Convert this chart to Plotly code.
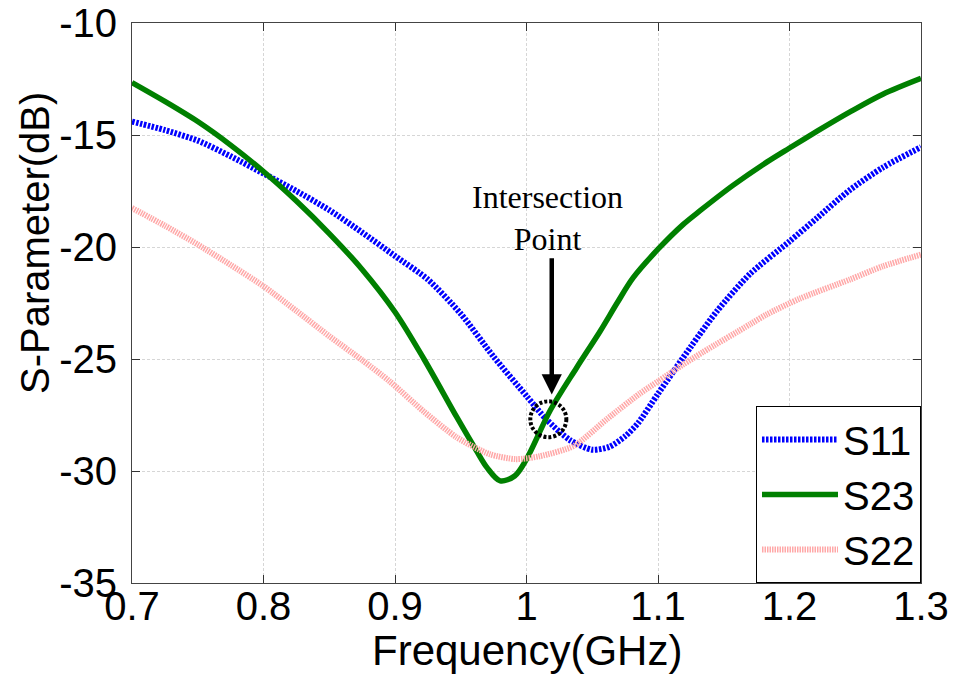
import plotly.graph_objects as go

# Measured S-parameters versus frequency
s11_freq = [0.700, 0.725, 0.750, 0.775, 0.800, 0.825, 0.850, 0.875, 0.900, 0.925,
            0.950, 0.975, 1.000, 1.015, 1.033, 1.050, 1.063, 1.075, 1.085, 1.100,
            1.125, 1.145, 1.170, 1.200, 1.221, 1.246, 1.271, 1.300]
s11_db = [-14.40, -14.78, -15.25, -15.95, -16.72, -17.50, -18.35, -19.35, -20.40, -21.45,
          -22.98, -24.90, -26.65, -27.69, -28.62, -29.05, -28.92, -28.45, -27.85, -26.55,
          -24.45, -22.85, -21.20, -19.75, -18.70, -17.45, -16.45, -15.54]

s23_freq = [0.700, 0.725, 0.750, 0.775, 0.800, 0.825, 0.850, 0.875, 0.900, 0.922,
            0.947, 0.962, 0.970, 0.980, 0.991, 1.000, 1.018, 1.038, 1.056, 1.069,
            1.081, 1.100, 1.119, 1.132, 1.157, 1.183, 1.200, 1.221, 1.246, 1.271, 1.300]
s23_db = [-12.66, -13.50, -14.40, -15.45, -16.63, -17.95, -19.40, -21.00, -22.90, -25.00,
          -27.60, -29.10, -29.85, -30.44, -30.22, -29.47, -27.30, -25.40, -23.76, -22.49,
          -21.38, -20.10, -19.00, -18.38, -17.25, -16.20, -15.58, -14.83, -13.97, -13.18, -12.47]

s22_freq = [0.700, 0.725, 0.750, 0.775, 0.800, 0.825, 0.850, 0.875, 0.896, 0.922,
            0.947, 0.972, 0.992, 1.010, 1.036, 1.061, 1.086, 1.100, 1.119, 1.134,
            1.170, 1.183, 1.208, 1.246, 1.271, 1.300]
s22_db = [-18.26, -19.05, -19.89, -20.80, -21.75, -22.85, -23.98, -25.05, -26.00, -27.35,
          -28.50, -29.25, -29.47, -29.34, -28.88, -27.69, -26.55, -26.00, -25.25, -24.70,
          -23.45, -23.00, -22.30, -21.45, -20.86, -20.34]

x_ticks = [0.7, 0.8, 0.9, 1.0, 1.1, 1.2, 1.3]
x_tick_text = ["0.7", "0.8", "0.9", "1", "1.1", "1.2", "1.3"]
y_ticks = [-35, -30, -25, -20, -15, -10]
y_tick_text = ["-35", "-30", "-25", "-20", "-15", "-10"]

# Crossing of S11 and S23, marked with a dashed circle
cross_f, cross_db = 1.0166, -27.69
circle_rf, circle_rdb = 0.0137, 0.80
arrow_tip_db, arrow_tail_db, arrow_f = -26.58, -20.43, 1.0192

SANS = "Liberation Sans, Arial, sans-serif"
SERIF = "Liberation Serif, Times New Roman, serif"

fig = go.Figure()
fig.add_trace(go.Scatter(x=s11_freq, y=s11_db, name="S11", mode="lines",
                         line=dict(color="#0000ff", width=6, dash="2.5px,1.5px",
                                   shape="spline", smoothing=0.7)))
fig.add_trace(go.Scatter(x=s23_freq, y=s23_db, name="S23", mode="lines",
                         line=dict(color="#008000", width=5.5,
                                   shape="spline", smoothing=0.9)))
fig.add_trace(go.Scatter(x=s22_freq, y=s22_db, name="S22", mode="lines",
                         line=dict(color="#ffa8a8", width=6, dash="1.5px,1px",
                                   shape="spline", smoothing=0.7)))

fig.add_shape(type="circle", xref="x", yref="y",
              x0=cross_f - circle_rf, x1=cross_f + circle_rf,
              y0=cross_db - circle_rdb, y1=cross_db + circle_rdb,
              line=dict(color="black", width=4, dash="3px,2px"))

fig.add_annotation(x=arrow_f, y=arrow_tip_db, ax=arrow_f, ay=arrow_tail_db,
                   xref="x", yref="y", axref="x", ayref="y", text="",
                   showarrow=True, arrowhead=2, arrowsize=0.9, arrowwidth=4.5,
                   arrowcolor="black", standoff=0)
fig.add_annotation(x=1.0163, y=-18.72, xref="x", yref="y",
                   text="Intersection<br>Point", showarrow=False,
                   font=dict(family=SERIF, size=32, color="black"))

# Axis titles
fig.add_annotation(x=0.5, y=-0.12, xref="paper", yref="paper",
                   text="Frequency(GHz)", showarrow=False, yanchor="middle",
                   font=dict(family=SANS, size=42, color="black"))
fig.add_annotation(x=-0.123, y=0.607, xref="paper", yref="paper",
                   text="S-Parameter(dB)", showarrow=False, textangle=-90,
                   xanchor="center", yanchor="middle",
                   font=dict(family=SANS, size=40, color="black"))

axis_common = dict(showline=True, linecolor="#444444", linewidth=1, mirror="ticks",
                   ticks="inside", ticklen=8, tickcolor="#333333", tickwidth=1,
                   showgrid=True, gridcolor="#d6d6d6", griddash="3px,2px", gridwidth=1,
                   zeroline=False, automargin=False,
                   tickfont=dict(family=SANS, size=40, color="black"))

fig.update_xaxes(range=[0.7, 1.3], tickvals=x_ticks, ticktext=x_tick_text,
                 ticklabelstandoff=-12, **axis_common)
fig.update_yaxes(range=[-35, -10], tickvals=y_ticks, ticktext=y_tick_text,
                 ticklabelstandoff=6, **axis_common)

fig.update_layout(
    width=956, height=688,
    margin=dict(l=132, r=35, t=23, b=105),
    paper_bgcolor="white", plot_bgcolor="white",
    showlegend=True,
    legend=dict(x=1.0, y=0, xanchor="right", yanchor="bottom",
                bgcolor="white", bordercolor="black", borderwidth=1,
                font=dict(family=SANS, size=40, color="black"),
                itemwidth=76, tracegroupgap=0),
)

fig.write_html("out.html")
